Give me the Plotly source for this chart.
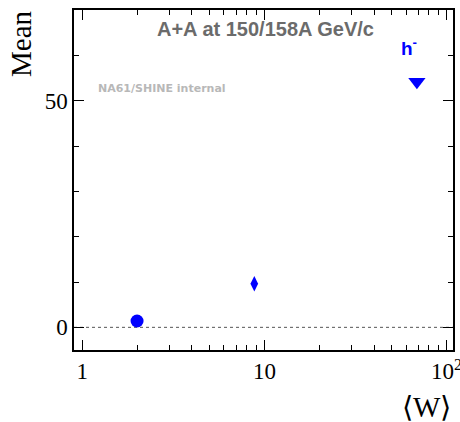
import plotly.graph_objects as go

# Mean of h- multiplicity versus mean number of wounded nucleons
w_mean = [2.0, 8.8, 68.7]
mean_vals = [1.4, 9.6, 54.2]
symbols = ["circle", "diamond-tall", "triangle-down"]
sizes = [13, 11, 15]

x_tickvals = [1, 10, 100]
x_ticktext = ["1", "10", "10<sup>2</sup>"]
x_minor = [2, 3, 4, 5, 6, 7, 8, 9, 20, 30, 40, 50, 60, 70, 80, 90]
y_tickvals = [0, 50]
y_minor = [10, 20, 30, 40, 60]

title_text = "A+A at 150/158A GeV/c"
label_text = "NA61/SHINE internal"
species = "h<sup>-</sup>"

BLUE = "#0000ff"
serif = "Liberation Serif, Times New Roman, serif"
sans = "Liberation Sans, Arial, sans-serif"
dejavu = "DejaVu Sans, Verdana, sans-serif"

fig = go.Figure()
for x, y, s, sz in zip(w_mean, mean_vals, symbols, sizes):
    fig.add_trace(go.Scatter(
        x=[x], y=[y], mode="markers",
        marker=dict(symbol=s, size=sz, color=BLUE, line=dict(width=0)),
        showlegend=False, hoverinfo="skip",
    ))

# dotted zero line
fig.add_shape(type="line", xref="paper", yref="y", x0=0, x1=1, y0=0, y1=0,
              line=dict(color="#555555", width=1, dash="dot"), layer="below")

axis_common = dict(
    showline=True, linecolor="black", linewidth=1.5, mirror="allticks",
    ticks="inside", tickcolor="black", tickwidth=1, showgrid=False,
    zeroline=False, tickfont=dict(family=serif, size=23, color="black"),
    ticklabeloverflow="allow", automargin=False,
)

fig.update_xaxes(
    type="log", range=[-0.045, 2.035],
    tickmode="array", tickvals=x_tickvals, ticktext=x_ticktext, ticklen=10,
    minor=dict(ticks="inside", tickvals=x_minor, ticklen=5, tickcolor="black", showgrid=False),
    **axis_common,
)
fig.update_yaxes(
    range=[-5, 70],
    tickmode="array", tickvals=y_tickvals, ticklen=10,
    minor=dict(ticks="inside", tickvals=y_minor, ticklen=5, tickcolor="black", showgrid=False),
    **axis_common,
)

fig.add_annotation(text=f"<b>{title_text}</b>", xref="paper", yref="paper",
                   x=0.505, y=0.943, xanchor="center", yanchor="middle", showarrow=False,
                   font=dict(family=sans, size=20, color="#6b6b6b"))
fig.add_annotation(text=f"<b>{label_text}</b>", xref="paper", yref="paper",
                   x=0.058, y=0.769, xanchor="left", yanchor="middle", showarrow=False,
                   font=dict(family=dejavu, size=11, color="#b8b8b8"))
fig.add_annotation(text=f"<b>{species}</b>", xref="paper", yref="paper",
                   x=0.883, y=0.892, xanchor="center", yanchor="middle", showarrow=False,
                   font=dict(family=sans, size=19, color=BLUE))

# axis titles
fig.add_annotation(text="Mean", xref="paper", yref="paper",
                   x=-0.1385, y=1.006, xanchor="center", yanchor="top", textangle=-90,
                   showarrow=False, font=dict(family=serif, size=29, color="black"))
fig.add_annotation(text="⟨W⟩", xref="paper", yref="paper",
                   x=1.0, y=-0.169, xanchor="right", yanchor="middle",
                   showarrow=False, font=dict(family=serif, size=29, color="black"))

fig.update_layout(
    width=460, height=422,
    margin=dict(l=74, r=7, t=10, b=72),
    paper_bgcolor="white", plot_bgcolor="white",
)

fig.write_html("out.html")
